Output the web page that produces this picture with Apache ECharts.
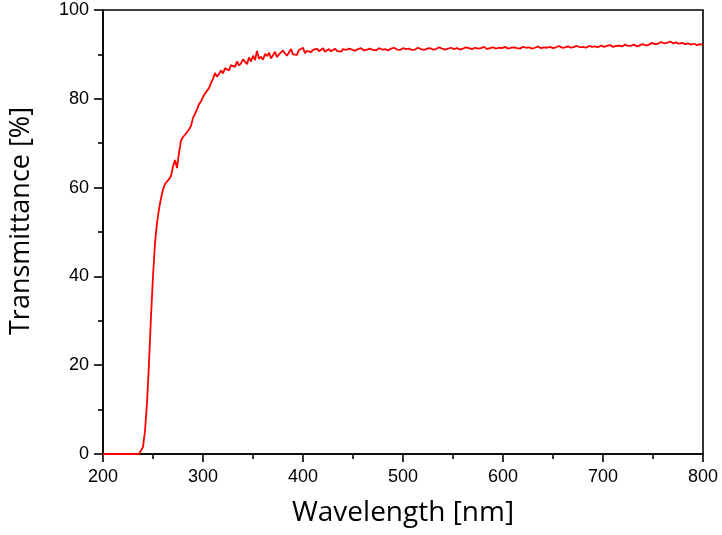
<!DOCTYPE html>
<html>
<head>
<meta charset="utf-8">
<script src="https://cdn.jsdelivr.net/npm/echarts@6/dist/echarts.min.js"></script>
<style>
html,body{margin:0;padding:0;background:#fff;}
#chart{width:722px;height:535px;}
</style>
</head>
<body>
<div id="chart"></div>
<script>
var xTitle = 'Wavelength [nm]';
var yTitle = 'Transmittance [%]';

var wavelength = [
200,210,220,230,
236,238,240,242,244,246,248,250,252,254,
256,258,260,262,264,266,268,270,272,274,
276,278,280,282,284,286,288,290,292,294,
296,298,300,302,304,306,308,310,312,314,
316,318,320,322,324,326,328,330,332,334,
336,338,340,342,344,346,348,350,352,354,
356,358,360,362,364,366,368,370,372,374,
376,378,380,382,384,386,388,390,392,394,
396,398,400,402,404,406,408,410,412,414,
416,418,420,422,424,426,428,430,432,434,
436,438,440,
443,446,449,452,455,458,461,464,467,470,
473,476,479,482,485,488,491,494,497,500,
503,506,509,512,515,518,521,524,527,530,
533,536,539,542,545,548,551,554,557,560,
563,566,569,572,575,578,581,584,587,590,
593,596,599,602,605,608,611,614,617,620,
623,626,629,632,635,638,641,644,647,650,
653,656,659,662,665,668,671,674,677,680,
683,686,689,692,695,698,701,704,707,710,
713,716,719,722,725,728,731,734,737,740,
743,746,749,752,755,758,761,764,767,770,
773,776,779,782,785,788,791,794,797,800
];

var transmittance = [
0,0,0,0,
0,0.4,1.6,5.2,11.5,20.5,31.0,40.0,47.5,52.0,
55.2,57.6,59.6,60.8,61.2,61.9,62.6,64.8,66.2,64.4,
67.8,70.6,71.4,71.9,72.3,73.1,73.9,75.7,76.6,77.6,
78.8,79.4,80.4,81.2,81.6,82.4,83.6,84.5,85.8,85.0,
85.6,86.4,85.7,86.9,87.3,86.4,87.6,87.9,87.2,88.4,
87.5,88.0,88.9,88.6,87.8,89.3,88.4,89.7,88.7,90.8,
89.0,89.5,88.8,90.1,89.6,90.4,89.1,89.8,90.6,89.4,
90.0,89.6,90.9,90.2,89.7,90.5,91.2,90.0,90.4,89.9,
91.0,90.6,91.5,90.3,90.8,91.2,90.5,91.0,90.6,91.3,
90.7,90.9,91.4,90.6,90.8,91.2,90.7,91.0,91.3,90.8,
91.1,90.6,91.2,
91.0,91.3,91.1,90.8,91.2,91.4,90.9,91.1,91.3,91.0,
90.9,91.4,91.1,91.2,90.9,91.3,91.5,91.1,91.0,91.4,
91.2,91.3,91.0,91.1,91.5,91.2,91.0,91.3,91.4,91.1,
91.2,91.6,91.3,91.1,91.3,91.5,91.2,91.4,91.1,91.3,
91.6,91.4,91.2,91.5,91.3,91.4,91.7,91.2,91.4,91.6,
91.3,91.5,91.4,91.7,91.3,91.5,91.6,91.4,91.3,91.7,
91.5,91.6,91.3,91.5,91.8,91.4,91.6,91.5,91.7,91.4,
91.6,91.9,91.5,91.6,91.8,91.5,91.7,91.9,91.6,91.7,
91.5,91.9,91.7,91.8,91.6,92.0,91.7,91.9,92.1,91.7,
91.9,92.0,91.8,92.2,91.9,92.0,92.2,91.8,92.1,92.3,
92.0,92.2,92.6,92.3,92.4,92.8,92.5,92.6,92.9,92.5,
92.7,92.4,92.6,92.3,92.5,92.2,92.4,92.1,92.3,92.1
];

var xTicks = { min: 200, max: 800, interval: 100 };
var yTicks = { min: 0, max: 100, interval: 20 };

var seriesData = wavelength.map(function (w, i) { return [w, transmittance[i]]; });

var chart = echarts.init(document.getElementById('chart'), null, { renderer: 'canvas' });
var axisLine = { show: true, lineStyle: { color: '#000', width: 1.6 } };
chart.setOption({
  animation: false,
  backgroundColor: '#fff',
  grid: { left: 102.5, right: 19, top: 10, bottom: 81, show: true, borderColor: '#000', borderWidth: 1.6, backgroundColor: 'transparent' },
  xAxis: {
    type: 'value', min: xTicks.min, max: xTicks.max, interval: xTicks.interval,
    name: xTitle, nameLocation: 'middle', nameGap: 45,
    nameTextStyle: { fontFamily: 'Open Sans', fontSize: 28, color: '#000' },
    axisLine: axisLine,
    axisTick: { show: true, inside: false, length: 8, lineStyle: { color: '#000', width: 1.6 } },
    minorTick: { show: true, splitNumber: 2, length: 5, lineStyle: { color: '#000', width: 1.6 } },
    axisLabel: { fontFamily: 'Liberation Sans', fontSize: 18, color: '#000', margin: 14 },
    splitLine: { show: false }
  },
  yAxis: {
    type: 'value', min: yTicks.min, max: yTicks.max, interval: yTicks.interval,
    name: yTitle, nameLocation: 'middle', nameGap: 68,
    nameTextStyle: { fontFamily: 'Open Sans', fontSize: 27, color: '#000', padding: [0, 0, 0, 22] },
    axisLine: axisLine,
    axisTick: { show: true, inside: false, length: 9, lineStyle: { color: '#000', width: 1.6 } },
    minorTick: { show: true, splitNumber: 2, length: 5, lineStyle: { color: '#000', width: 1.6 } },
    axisLabel: { fontFamily: 'Liberation Sans', fontSize: 18, color: '#000', margin: 14 },
    splitLine: { show: false }
  },
  series: [{
    type: 'line', data: seriesData, showSymbol: false, symbol: 'none',
    lineStyle: { color: '#ff0000', width: 1.8 }
  }]
});
</script>
</body>
</html>
